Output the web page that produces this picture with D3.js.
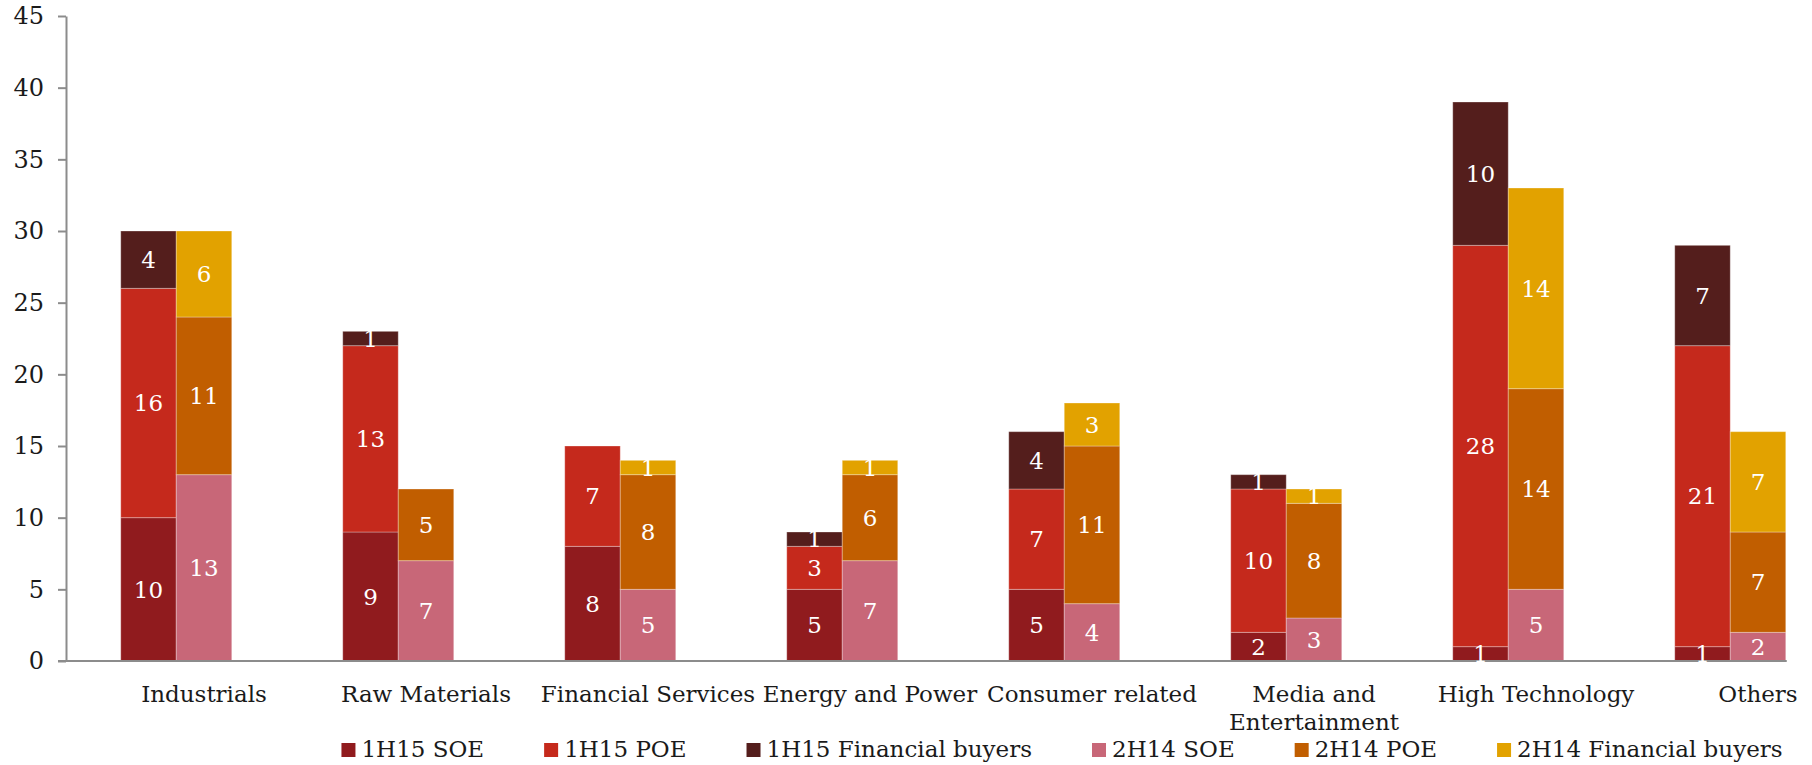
<!DOCTYPE html>
<html>
<head>
<meta charset="utf-8">
<script src="https://cdn.jsdelivr.net/npm/d3@7"></script>
<style>
  html, body { margin: 0; padding: 0; background: #fff; }
  svg { display: block; font-family: Georgia, 'DejaVu Serif', serif; }
</style>
</head>
<body>
<div id="chart"></div>
<script>
// deals by sector, 1H15 vs 2H14, split by buyer type
var categories = ['Industrials', 'Raw Materials', 'Financial Services', 'Energy and Power',
  'Consumer related', 'Media and Entertainment', 'High Technology', 'Others'];
var soe1H15 = [10, 9, 8, 5, 5, 2, 1, 1];
var poe1H15 = [16, 13, 7, 3, 7, 10, 28, 21];
var fin1H15 = [4, 1, 0, 1, 4, 1, 10, 7];
var soe2H14 = [13, 7, 5, 7, 4, 3, 5, 2];
var poe2H14 = [11, 5, 8, 6, 11, 8, 14, 7];
var fin2H14 = [6, 0, 1, 1, 3, 1, 14, 7];
var yTicks = [0, 5, 10, 15, 20, 25, 30, 35, 40, 45];
var legendLabels = ['1H15 SOE', '1H15 POE', '1H15 Financial buyers',
  '2H14 SOE', '2H14 POE', '2H14 Financial buyers'];

var W = 1812, H = 765;
var AXIS_X = 66, Y_TOP = 16, Y_BOTTOM = 661;
var BAND_LEFT = 93, BAND_STEP = 222;
var FONT = 23;

var COLORS = {
  '1H15': ['#901b1e', '#c5291c', '#541e1c'],
  '2H14': ['#c86778', '#c15e00', '#e2a200']
};

var periods = [
  { key: '1H15', series: [soe1H15, poe1H15, fin1H15] },
  { key: '2H14', series: [soe2H14, poe2H14, fin2H14] }
];

var svg = d3.select('#chart').append('svg')
  .attr('width', W)
  .attr('height', H);

var x0 = d3.scaleBand()
  .domain(categories)
  .range([BAND_LEFT, BAND_LEFT + categories.length * BAND_STEP])
  .paddingInner(0)
  .paddingOuter(0);

// three slots per category, third one left empty (as in the original)
var x1 = d3.scaleBand()
  .domain(['1H15', '2H14', 'empty'])
  .range([0, x0.bandwidth()])
  .paddingInner(0)
  .paddingOuter(0.5);

var y = d3.scaleLinear().domain([0, 45]).range([Y_BOTTOM, Y_TOP]);

var barsLayer = svg.append('g');
var axisLayer = svg.append('g');
var labelLayer = svg.append('g');

periods.forEach(function(p) {
  var rows = categories.map(function(c, i) {
    return { cat: c, s0: p.series[0][i], s1: p.series[1][i], s2: p.series[2][i] };
  });
  var stacked = d3.stack().keys(['s0', 's1', 's2'])(rows);

  stacked.forEach(function(layer, li) {
    var color = COLORS[p.key][li];
    layer.forEach(function(d) {
      var v = d[1] - d[0];
      if (v <= 0) return;
      var bx = x0(d.data.cat) + x1(p.key);
      barsLayer.append('rect')
        .attr('x', bx)
        .attr('y', y(d[1]))
        .attr('width', x1.bandwidth())
        .attr('height', y(d[0]) - y(d[1]))
        .attr('fill', color)
        .attr('stroke', 'rgba(255,255,255,0.3)')
        .attr('stroke-width', 1);

      labelLayer.append('text')
        .attr('x', bx + x1.bandwidth() / 2)
        .attr('y', y((d[0] + d[1]) / 2))
        .attr('dy', '0.36em')
        .attr('text-anchor', 'middle')
        .attr('fill', '#ffffff')
        .attr('font-size', FONT + 'px')
        .text(v);
    });
  });
});

// y axis
var yAxis = d3.axisLeft(y)
  .tickValues(yTicks)
  .tickFormat(d3.format('d'))
  .tickSize(8)
  .tickSizeOuter(0)
  .tickPadding(14);

var yg = axisLayer.append('g')
  .attr('transform', 'translate(' + AXIS_X + ',0)')
  .call(yAxis);
yg.selectAll('path, line').attr('stroke', '#8c8c8c').attr('stroke-width', 2);
yg.selectAll('text')
  .attr('fill', '#1a1a1a')
  .attr('font-size', (FONT + 1) + 'px')
  .attr('font-family', "Georgia, 'DejaVu Serif', serif");

// x axis baseline
axisLayer.append('line')
  .attr('x1', AXIS_X - 8)
  .attr('x2', x0(categories[categories.length - 1]) + x1('2H14') + x1.bandwidth() + 1)
  .attr('y1', y(0))
  .attr('y2', y(0))
  .attr('stroke', '#8c8c8c')
  .attr('stroke-width', 2);

// category labels, wrapped if wider than the band
var catG = axisLayer.append('g');
categories.forEach(function(c) {
  var t = catG.append('text')
    .attr('x', x0(c) + x0.bandwidth() / 2)
    .attr('y', 702)
    .attr('text-anchor', 'middle')
    .attr('fill', '#1a1a1a')
    .attr('font-size', FONT + 'px')
    .text(c);
  if (t.node().getComputedTextLength() > 232) {
    var words = c.split(' ');
    var first = words.slice(0, words.length - 1).join(' ');
    var last = words[words.length - 1];
    t.text(null);
    t.append('tspan').attr('x', x0(c) + x0.bandwidth() / 2).text(first);
    t.append('tspan').attr('x', x0(c) + x0.bandwidth() / 2).attr('dy', 28).text(last);
  }
});

// legend: flow layout, centred
var legendColors = COLORS['1H15'].concat(COLORS['2H14']);
var SQ = 14, SQ_GAP = 6, ITEM_GAP = 60, LEG_BASE = 757, LEG_CENTER = 1062;
var legend = svg.append('g');
var cursor = 0;
legendLabels.forEach(function(lbl, i) {
  var g = legend.append('g').attr('transform', 'translate(' + cursor + ',0)');
  g.append('rect')
    .attr('x', 0)
    .attr('y', LEG_BASE - SQ)
    .attr('width', SQ)
    .attr('height', SQ)
    .attr('fill', legendColors[i]);
  var t = g.append('text')
    .attr('x', SQ + SQ_GAP)
    .attr('y', LEG_BASE)
    .attr('fill', '#1a1a1a')
    .attr('font-size', FONT + 'px')
    .text(lbl);
  cursor += SQ + SQ_GAP + t.node().getComputedTextLength() + ITEM_GAP;
});
var legendWidth = cursor - ITEM_GAP;
legend.attr('transform', 'translate(' + (LEG_CENTER - legendWidth / 2) + ',0)');
</script>
</body>
</html>
